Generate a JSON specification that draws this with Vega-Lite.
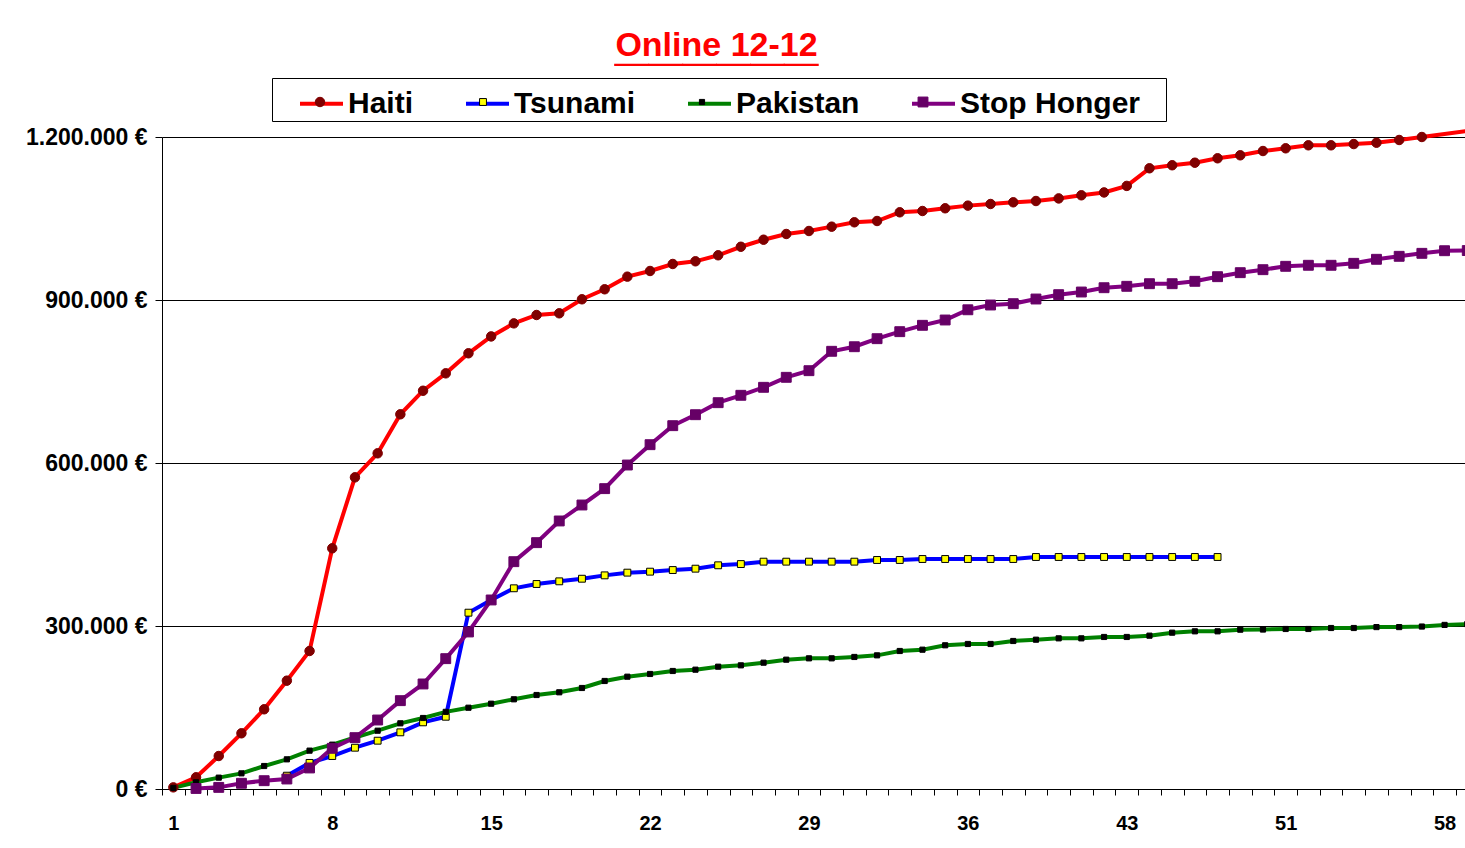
{
  "$schema": "https://vega.github.io/schema/vega-lite/v6.json",
  "autosize": {"type": "none"},
  "padding": {"left": 162, "top": 137, "right": 0, "bottom": 59},
  "width": 1303,
  "height": 652,
  "background": "white",
  "config": {"view": {"stroke": null}, "font": "Liberation Sans"},
  "title": {
    "text": "Online 12-12",
    "subtitle": "______",
    "color": "#FF0000",
    "subtitleColor": "#FF0000",
    "font": "Liberation Sans",
    "subtitleFont": "Liberation Sans",
    "fontSize": 34,
    "subtitleFontSize": 61,
    "fontWeight": "bold",
    "subtitleFontWeight": "bold",
    "anchor": "middle",
    "dx": -97,
    "offset": -12,
    "subtitlePadding": -52
  },
  "data": {"values": [
    {"punt":1,"reeks":"Haiti","bedrag":3000},{"punt":2,"reeks":"Haiti","bedrag":21500},{"punt":3,"reeks":"Haiti","bedrag":60700},{"punt":4,"reeks":"Haiti","bedrag":102500},{"punt":5,"reeks":"Haiti","bedrag":146700},{"punt":6,"reeks":"Haiti","bedrag":199400},{"punt":7,"reeks":"Haiti","bedrag":254000},{"punt":8,"reeks":"Haiti","bedrag":443000},{"punt":9,"reeks":"Haiti","bedrag":573600},{"punt":10,"reeks":"Haiti","bedrag":617800},{"punt":11,"reeks":"Haiti","bedrag":689600},{"punt":12,"reeks":"Haiti","bedrag":733000},{"punt":13,"reeks":"Haiti","bedrag":765000},{"punt":14,"reeks":"Haiti","bedrag":801900},{"punt":15,"reeks":"Haiti","bedrag":833000},{"punt":16,"reeks":"Haiti","bedrag":857000},{"punt":17,"reeks":"Haiti","bedrag":872400},{"punt":18,"reeks":"Haiti","bedrag":875500},{"punt":19,"reeks":"Haiti","bedrag":901300},{"punt":20,"reeks":"Haiti","bedrag":919700},{"punt":21,"reeks":"Haiti","bedrag":943000},{"punt":22,"reeks":"Haiti","bedrag":953400},{"punt":23,"reeks":"Haiti","bedrag":966300},{"punt":24,"reeks":"Haiti","bedrag":971200},{"punt":25,"reeks":"Haiti","bedrag":982300},{"punt":26,"reeks":"Haiti","bedrag":998000},{"punt":27,"reeks":"Haiti","bedrag":1011000},{"punt":28,"reeks":"Haiti","bedrag":1021500},{"punt":29,"reeks":"Haiti","bedrag":1027000},{"punt":30,"reeks":"Haiti","bedrag":1035000},{"punt":31,"reeks":"Haiti","bedrag":1043000},{"punt":32,"reeks":"Haiti","bedrag":1045400},{"punt":33,"reeks":"Haiti","bedrag":1061400},{"punt":34,"reeks":"Haiti","bedrag":1063800},{"punt":35,"reeks":"Haiti","bedrag":1068800},{"punt":36,"reeks":"Haiti","bedrag":1073700},{"punt":37,"reeks":"Haiti","bedrag":1076700},{"punt":38,"reeks":"Haiti","bedrag":1079800},{"punt":39,"reeks":"Haiti","bedrag":1082200},{"punt":40,"reeks":"Haiti","bedrag":1087000},{"punt":41,"reeks":"Haiti","bedrag":1092700},{"punt":42,"reeks":"Haiti","bedrag":1098000},{"punt":43,"reeks":"Haiti","bedrag":1110000},{"punt":44,"reeks":"Haiti","bedrag":1142400},{"punt":45,"reeks":"Haiti","bedrag":1148000},{"punt":46,"reeks":"Haiti","bedrag":1152700},{"punt":47,"reeks":"Haiti","bedrag":1160800},{"punt":48,"reeks":"Haiti","bedrag":1166300},{"punt":49,"reeks":"Haiti","bedrag":1174200},{"punt":50,"reeks":"Haiti","bedrag":1179200},{"punt":51,"reeks":"Haiti","bedrag":1184700},{"punt":52,"reeks":"Haiti","bedrag":1184700},{"punt":53,"reeks":"Haiti","bedrag":1187000},{"punt":54,"reeks":"Haiti","bedrag":1189500},{"punt":55,"reeks":"Haiti","bedrag":1194500},{"punt":56,"reeks":"Haiti","bedrag":1200000},{"punt":57,"reeks":"Haiti","bedrag":1205500},{"punt":58,"reeks":"Haiti","bedrag":1211000},
    {"punt":6,"reeks":"Tsunami","bedrag":24500},{"punt":7,"reeks":"Tsunami","bedrag":48000},{"punt":8,"reeks":"Tsunami","bedrag":60700},{"punt":9,"reeks":"Tsunami","bedrag":76000},{"punt":10,"reeks":"Tsunami","bedrag":88900},{"punt":11,"reeks":"Tsunami","bedrag":104300},{"punt":12,"reeks":"Tsunami","bedrag":122700},{"punt":13,"reeks":"Tsunami","bedrag":133000},{"punt":14,"reeks":"Tsunami","bedrag":324500},{"punt":15,"reeks":"Tsunami","bedrag":347900},{"punt":16,"reeks":"Tsunami","bedrag":369400},{"punt":17,"reeks":"Tsunami","bedrag":377300},{"punt":18,"reeks":"Tsunami","bedrag":382200},{"punt":19,"reeks":"Tsunami","bedrag":387000},{"punt":20,"reeks":"Tsunami","bedrag":393200},{"punt":21,"reeks":"Tsunami","bedrag":398200},{"punt":22,"reeks":"Tsunami","bedrag":400000},{"punt":23,"reeks":"Tsunami","bedrag":403000},{"punt":24,"reeks":"Tsunami","bedrag":405500},{"punt":25,"reeks":"Tsunami","bedrag":411700},{"punt":26,"reeks":"Tsunami","bedrag":414000},{"punt":27,"reeks":"Tsunami","bedrag":418400},{"punt":28,"reeks":"Tsunami","bedrag":418400},{"punt":29,"reeks":"Tsunami","bedrag":418400},{"punt":30,"reeks":"Tsunami","bedrag":418400},{"punt":31,"reeks":"Tsunami","bedrag":418400},{"punt":32,"reeks":"Tsunami","bedrag":421500},{"punt":33,"reeks":"Tsunami","bedrag":421500},{"punt":34,"reeks":"Tsunami","bedrag":423300},{"punt":35,"reeks":"Tsunami","bedrag":423300},{"punt":36,"reeks":"Tsunami","bedrag":423300},{"punt":37,"reeks":"Tsunami","bedrag":423300},{"punt":38,"reeks":"Tsunami","bedrag":423300},{"punt":39,"reeks":"Tsunami","bedrag":427000},{"punt":40,"reeks":"Tsunami","bedrag":427000},{"punt":41,"reeks":"Tsunami","bedrag":427000},{"punt":42,"reeks":"Tsunami","bedrag":427000},{"punt":43,"reeks":"Tsunami","bedrag":427000},{"punt":44,"reeks":"Tsunami","bedrag":427000},{"punt":45,"reeks":"Tsunami","bedrag":427000},{"punt":46,"reeks":"Tsunami","bedrag":427000},{"punt":47,"reeks":"Tsunami","bedrag":427000},
    {"punt":1,"reeks":"Pakistan","bedrag":2000},{"punt":2,"reeks":"Pakistan","bedrag":12300},{"punt":3,"reeks":"Pakistan","bedrag":20900},{"punt":4,"reeks":"Pakistan","bedrag":28800},{"punt":5,"reeks":"Pakistan","bedrag":42300},{"punt":6,"reeks":"Pakistan","bedrag":54600},{"punt":7,"reeks":"Pakistan","bedrag":70600},{"punt":8,"reeks":"Pakistan","bedrag":81600},{"punt":9,"reeks":"Pakistan","bedrag":94800},{"punt":10,"reeks":"Pakistan","bedrag":107300},{"punt":11,"reeks":"Pakistan","bedrag":120900},{"punt":12,"reeks":"Pakistan","bedrag":130700},{"punt":13,"reeks":"Pakistan","bedrag":142000},{"punt":14,"reeks":"Pakistan","bedrag":149600},{"punt":15,"reeks":"Pakistan","bedrag":157000},{"punt":16,"reeks":"Pakistan","bedrag":165100},{"punt":17,"reeks":"Pakistan","bedrag":173000},{"punt":18,"reeks":"Pakistan","bedrag":178000},{"punt":19,"reeks":"Pakistan","bedrag":185900},{"punt":20,"reeks":"Pakistan","bedrag":198800},{"punt":21,"reeks":"Pakistan","bedrag":206700},{"punt":22,"reeks":"Pakistan","bedrag":211700},{"punt":23,"reeks":"Pakistan","bedrag":217200},{"punt":24,"reeks":"Pakistan","bedrag":219600},{"punt":25,"reeks":"Pakistan","bedrag":225100},{"punt":26,"reeks":"Pakistan","bedrag":227600},{"punt":27,"reeks":"Pakistan","bedrag":232500},{"punt":28,"reeks":"Pakistan","bedrag":238000},{"punt":29,"reeks":"Pakistan","bedrag":240500},{"punt":30,"reeks":"Pakistan","bedrag":240500},{"punt":31,"reeks":"Pakistan","bedrag":243000},{"punt":32,"reeks":"Pakistan","bedrag":246000},{"punt":33,"reeks":"Pakistan","bedrag":254000},{"punt":34,"reeks":"Pakistan","bedrag":256400},{"punt":35,"reeks":"Pakistan","bedrag":264500},{"punt":36,"reeks":"Pakistan","bedrag":266900},{"punt":37,"reeks":"Pakistan","bedrag":266900},{"punt":38,"reeks":"Pakistan","bedrag":272400},{"punt":39,"reeks":"Pakistan","bedrag":274800},{"punt":40,"reeks":"Pakistan","bedrag":277300},{"punt":41,"reeks":"Pakistan","bedrag":277300},{"punt":42,"reeks":"Pakistan","bedrag":279800},{"punt":43,"reeks":"Pakistan","bedrag":279800},{"punt":44,"reeks":"Pakistan","bedrag":282200},{"punt":45,"reeks":"Pakistan","bedrag":287700},{"punt":46,"reeks":"Pakistan","bedrag":290200},{"punt":47,"reeks":"Pakistan","bedrag":290200},{"punt":48,"reeks":"Pakistan","bedrag":293200},{"punt":49,"reeks":"Pakistan","bedrag":293500},{"punt":50,"reeks":"Pakistan","bedrag":294500},{"punt":51,"reeks":"Pakistan","bedrag":294500},{"punt":52,"reeks":"Pakistan","bedrag":296300},{"punt":53,"reeks":"Pakistan","bedrag":296300},{"punt":54,"reeks":"Pakistan","bedrag":298000},{"punt":55,"reeks":"Pakistan","bedrag":298000},{"punt":56,"reeks":"Pakistan","bedrag":299000},{"punt":57,"reeks":"Pakistan","bedrag":302000},{"punt":58,"reeks":"Pakistan","bedrag":303500},
    {"punt":2,"reeks":"Stop Honger","bedrag":1000},{"punt":3,"reeks":"Stop Honger","bedrag":3000},{"punt":4,"reeks":"Stop Honger","bedrag":10500},{"punt":5,"reeks":"Stop Honger","bedrag":15300},{"punt":6,"reeks":"Stop Honger","bedrag":18400},{"punt":7,"reeks":"Stop Honger","bedrag":38700},{"punt":8,"reeks":"Stop Honger","bedrag":74900},{"punt":9,"reeks":"Stop Honger","bedrag":94500},{"punt":10,"reeks":"Stop Honger","bedrag":127000},{"punt":11,"reeks":"Stop Honger","bedrag":162600},{"punt":12,"reeks":"Stop Honger","bedrag":193300},{"punt":13,"reeks":"Stop Honger","bedrag":239900},{"punt":14,"reeks":"Stop Honger","bedrag":289000},{"punt":15,"reeks":"Stop Honger","bedrag":347900},{"punt":16,"reeks":"Stop Honger","bedrag":418400},{"punt":17,"reeks":"Stop Honger","bedrag":453400},{"punt":18,"reeks":"Stop Honger","bedrag":493300},{"punt":19,"reeks":"Stop Honger","bedrag":522700},{"punt":20,"reeks":"Stop Honger","bedrag":552800},{"punt":21,"reeks":"Stop Honger","bedrag":596300},{"punt":22,"reeks":"Stop Honger","bedrag":633700},{"punt":23,"reeks":"Stop Honger","bedrag":668700},{"punt":24,"reeks":"Stop Honger","bedrag":688900},{"punt":25,"reeks":"Stop Honger","bedrag":711000},{"punt":26,"reeks":"Stop Honger","bedrag":724600},{"punt":27,"reeks":"Stop Honger","bedrag":739300},{"punt":28,"reeks":"Stop Honger","bedrag":757700},{"punt":29,"reeks":"Stop Honger","bedrag":769900},{"punt":30,"reeks":"Stop Honger","bedrag":805600},{"punt":31,"reeks":"Stop Honger","bedrag":814000},{"punt":32,"reeks":"Stop Honger","bedrag":828800},{"punt":33,"reeks":"Stop Honger","bedrag":841700},{"punt":34,"reeks":"Stop Honger","bedrag":853400},{"punt":35,"reeks":"Stop Honger","bedrag":863200},{"punt":36,"reeks":"Stop Honger","bedrag":882000},{"punt":37,"reeks":"Stop Honger","bedrag":890800},{"punt":38,"reeks":"Stop Honger","bedrag":893200},{"punt":39,"reeks":"Stop Honger","bedrag":901800},{"punt":40,"reeks":"Stop Honger","bedrag":909800},{"punt":41,"reeks":"Stop Honger","bedrag":914700},{"punt":42,"reeks":"Stop Honger","bedrag":922600},{"punt":43,"reeks":"Stop Honger","bedrag":925200},{"punt":44,"reeks":"Stop Honger","bedrag":930000},{"punt":45,"reeks":"Stop Honger","bedrag":930000},{"punt":46,"reeks":"Stop Honger","bedrag":934400},{"punt":47,"reeks":"Stop Honger","bedrag":942900},{"punt":48,"reeks":"Stop Honger","bedrag":950300},{"punt":49,"reeks":"Stop Honger","bedrag":955800},{"punt":50,"reeks":"Stop Honger","bedrag":962000},{"punt":51,"reeks":"Stop Honger","bedrag":963900},{"punt":52,"reeks":"Stop Honger","bedrag":963900},{"punt":53,"reeks":"Stop Honger","bedrag":967500},{"punt":54,"reeks":"Stop Honger","bedrag":974900},{"punt":55,"reeks":"Stop Honger","bedrag":980400},{"punt":56,"reeks":"Stop Honger","bedrag":985900},{"punt":57,"reeks":"Stop Honger","bedrag":990700},{"punt":58,"reeks":"Stop Honger","bedrag":991000}
  ]},
  "layer": [
    {
      "mark": {"type": "line", "strokeWidth": 4, "clip": false},
      "encoding": {
        "x": {"field": "punt", "type": "quantitative", "scale": {"domain": [0.5, 57.9], "nice": false, "zero": false},
          "axis": {"orient": "bottom", "values": [0.5,1.5,2.5,3.5,4.5,5.5,6.5,7.5,8.5,9.5,10.5,11.5,12.5,13.5,14.5,15.5,16.5,17.5,18.5,19.5,20.5,21.5,22.5,23.5,24.5,25.5,26.5,27.5,28.5,29.5,30.5,31.5,32.5,33.5,34.5,35.5,36.5,37.5,38.5,39.5,40.5,41.5,42.5,43.5,44.5,45.5,46.5,47.5,48.5,49.5,50.5,51.5,52.5,53.5,54.5,55.5,56.5,57.5],
            "labels": false, "ticks": true, "tickSize": 6, "tickColor": "#000000", "domainColor": "#000000", "grid": false, "title": null}},
        "y": {"field": "bedrag", "type": "quantitative", "scale": {"domain": [0, 1200000], "nice": false},
          "axis": {"values": [0, 300000, 600000, 900000, 1200000], "grid": true, "gridColor": "#000000", "gridWidth": 1, "tickSize": 7, "tickColor": "#000000", "domainColor": "#000000",
            "labelFont": "Liberation Sans", "labelFontSize": 23, "labelFontWeight": "bold", "labelColor": "#000000", "labelPadding": 8,
            "labelExpr": "replace(format(datum.value, ','), regexp(',', 'g'), '.') + ' €'", "title": null}},
        "color": {"field": "reeks", "type": "nominal", "sort": ["Haiti", "Tsunami", "Pakistan", "Stop Honger"],
          "scale": {"range": ["#FF0000", "#0000FF", "#008000", "#800080"]},
          "legend": {"orient": "none", "legendX": 110, "legendY": -59, "direction": "horizontal", "columns": 4, "title": " ", "titleOrient": "right", "titleFontSize": 30, "titlePadding": 24,
            "symbolType": "stroke", "symbolSize": 1849, "symbolStrokeWidth": 4, "labelFont": "Liberation Sans", "labelFontSize": 30, "labelFontWeight": "bold",
            "labelColor": "#000000", "labelOffset": 3, "columnPadding": 26, "padding": 2, "symbolOffset": 24, "strokeColor": "#000000", "fillColor": "#FFFFFF", "labelLimit": 400}}
      }
    },
    {
      "transform": [{"filter": "datum.bedrag <= 1200000"}],
      "mark": {"type": "point", "filled": true, "size": 1849, "strokeWidth": 1, "opacity": 1},
      "encoding": {
        "x": {"field": "punt", "type": "quantitative", "scale": {"domain": [0.5, 57.9], "nice": false, "zero": false},
          "axis": {"orient": "bottom", "values": [1, 8, 15, 22, 29, 36, 43, 50, 57], "ticks": false, "domain": false, "grid": false, "labelFlush": false, "labelOverlap": false,
            "labelFont": "Liberation Sans", "labelFontSize": 20, "labelFontWeight": "bold", "labelColor": "#000000", "labelPadding": 24,
            "labelExpr": "datum.value > 45 ? datum.value + 1 : datum.value", "title": null}},
        "y": {"field": "bedrag", "type": "quantitative", "scale": {"domain": [0, 1200000], "nice": false},
          "axis": {"values": [0, 300000, 600000, 900000, 1200000], "grid": true, "gridColor": "#000000", "gridWidth": 1, "tickSize": 7, "tickColor": "#000000", "domainColor": "#000000",
            "labelFont": "Liberation Sans", "labelFontSize": 23, "labelFontWeight": "bold", "labelColor": "#000000", "labelPadding": 8,
            "labelExpr": "replace(format(datum.value, ','), regexp(',', 'g'), '.') + ' €'", "title": null}},
        "fill": {"field": "reeks", "type": "nominal",
          "scale": {"domain": ["Haiti", "Tsunami", "Pakistan", "Stop Honger"], "range": ["#800000", "#FFFF00", "#000000", "#660066"]},
          "legend": {"orient": "none", "legendX": 110, "legendY": -59, "direction": "horizontal", "columns": 4, "title": null,
            "symbolSize": 1849, "symbolStrokeWidth": 1, "labelFont": "Liberation Sans", "labelFontSize": 30, "labelFontWeight": "bold",
            "labelColor": "transparent", "labelOffset": 3, "columnPadding": 26, "padding": 2, "symbolOffset": 24, "labelLimit": 400}},
        "stroke": {"field": "reeks", "type": "nominal",
          "scale": {"domain": ["Haiti", "Tsunami", "Pakistan", "Stop Honger"], "range": ["#800000", "#000000", "#000000", "#660066"]},
          "legend": {"orient": "none", "legendX": 110, "legendY": -59, "direction": "horizontal", "columns": 4, "title": null,
            "symbolSize": 1849, "symbolStrokeWidth": 1, "labelFont": "Liberation Sans", "labelFontSize": 30, "labelFontWeight": "bold",
            "labelColor": "transparent", "labelOffset": 3, "columnPadding": 26, "padding": 2, "symbolOffset": 24, "labelLimit": 400}},
        "shape": {"field": "reeks", "type": "nominal",
          "scale": {"domain": ["Haiti", "Tsunami", "Pakistan", "Stop Honger"], "range": ["M-0.22,0A0.22,0.22,0,1,1,0.22,0A0.22,0.22,0,1,1,-0.22,0Z", "M-0.16,-0.16H0.16V0.16H-0.16Z", "M-0.12,-0.12H0.12V0.12H-0.12Z", "M-0.23,-0.23H0.23V0.23H-0.23Z"]},
          "legend": {"orient": "none", "legendX": 110, "legendY": -59, "direction": "horizontal", "columns": 4, "title": null,
            "symbolSize": 1849, "symbolStrokeWidth": 1, "labelFont": "Liberation Sans", "labelFontSize": 30, "labelFontWeight": "bold",
            "labelColor": "transparent", "labelOffset": 3, "columnPadding": 26, "padding": 2, "symbolOffset": 24, "labelLimit": 400}}
      }
    }
  ],
  "resolve": {"axis": {"x": "independent"}}
}
